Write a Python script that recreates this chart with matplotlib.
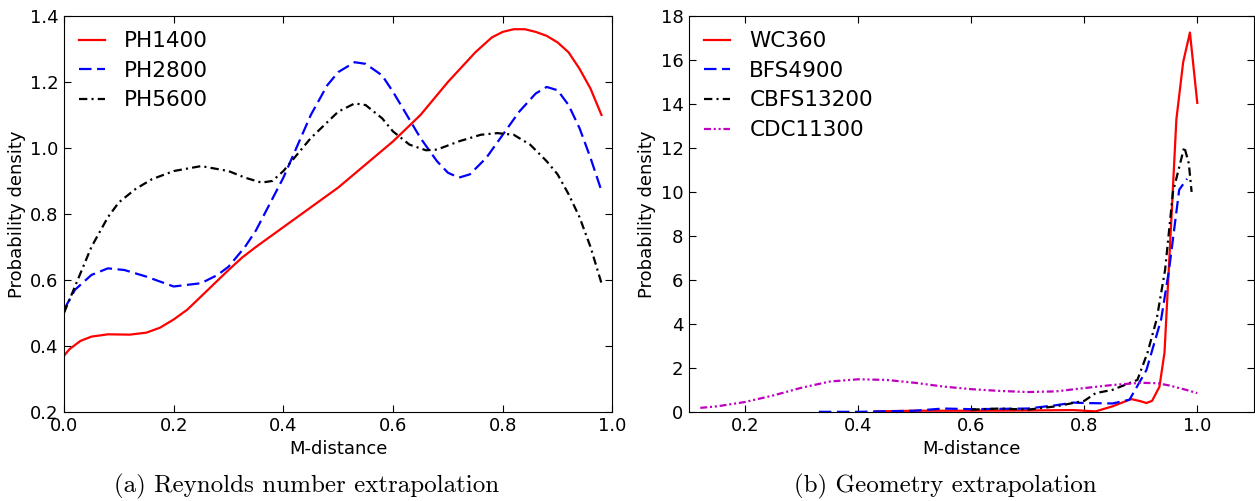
import numpy as np
import matplotlib
matplotlib.use('Agg')
import matplotlib.pyplot as plt

# (a) Reynolds number extrapolation
x_ph1400 = [0.0, 0.01, 0.03, 0.05, 0.08, 0.12, 0.15, 0.175, 0.2, 0.225, 0.25, 0.275,
            0.3, 0.325, 0.35, 0.4, 0.45, 0.5, 0.55, 0.6, 0.65, 0.7, 0.75, 0.78,
            0.8, 0.82, 0.84, 0.86, 0.88, 0.9, 0.92, 0.94, 0.96, 0.98]
ph1400 = [0.37, 0.39, 0.415, 0.428, 0.435, 0.434, 0.44, 0.455, 0.48, 0.51, 0.55, 0.59,
          0.63, 0.668, 0.70, 0.76, 0.82, 0.88, 0.95, 1.02, 1.10, 1.20, 1.29, 1.335,
          1.352, 1.36, 1.36, 1.352, 1.34, 1.32, 1.29, 1.24, 1.18, 1.10]
x_ph2800 = [0.0, 0.02, 0.05, 0.08, 0.11, 0.15, 0.2, 0.25, 0.28, 0.3, 0.33, 0.35, 0.4,
            0.45, 0.48, 0.5, 0.53, 0.55, 0.58, 0.6, 0.65, 0.68, 0.7, 0.72, 0.74,
            0.77, 0.8, 0.83, 0.86, 0.88, 0.9, 0.92, 0.94, 0.96, 0.98]
ph2800 = [0.51, 0.57, 0.615, 0.635, 0.63, 0.61, 0.58, 0.59, 0.615, 0.64, 0.70, 0.75,
          0.91, 1.10, 1.19, 1.23, 1.26, 1.255, 1.22, 1.17, 1.03, 0.96, 0.925, 0.91,
          0.92, 0.97, 1.04, 1.11, 1.165, 1.185, 1.175, 1.13, 1.06, 0.97, 0.87]
x_ph5600 = [0.0, 0.02, 0.05, 0.08, 0.1, 0.13, 0.16, 0.2, 0.25, 0.3, 0.33, 0.36, 0.38,
            0.4, 0.45, 0.5, 0.53, 0.55, 0.58, 0.6, 0.63, 0.66, 0.68, 0.72, 0.76,
            0.79, 0.82, 0.85, 0.88, 0.9, 0.92, 0.94, 0.96, 0.98]
ph5600 = [0.50, 0.58, 0.70, 0.79, 0.835, 0.875, 0.905, 0.93, 0.945, 0.93, 0.91, 0.895,
          0.90, 0.93, 1.03, 1.11, 1.135, 1.13, 1.09, 1.05, 1.01, 0.993, 0.995, 1.02,
          1.04, 1.045, 1.04, 1.01, 0.96, 0.92, 0.86, 0.79, 0.70, 0.59]

# (b) Geometry extrapolation
x_wc = [0.43, 0.5, 0.6, 0.7, 0.78, 0.8, 0.82, 0.85, 0.883, 0.9, 0.91, 0.92, 0.933,
        0.942, 0.954, 0.963, 0.975, 0.987, 1.0]
wc360 = [0.02, 0.05, 0.05, 0.06, 0.08, 0.05, 0.02, 0.25, 0.58, 0.48, 0.4, 0.5, 1.14,
         2.7, 8.7, 13.3, 15.9, 17.25, 14.05]
x_bfs = [0.33, 0.4, 0.5, 0.55, 0.6, 0.7, 0.75, 0.78, 0.8, 0.85, 0.88, 0.91, 0.936,
         0.95, 0.968, 0.982]
bfs4900 = [0.0, 0.0, 0.05, 0.15, 0.12, 0.15, 0.3, 0.42, 0.4, 0.38, 0.55, 1.9, 4.2,
           6.45, 10.1, 10.6]
x_cbfs = [0.6, 0.65, 0.7, 0.75, 0.8, 0.82, 0.85, 0.894, 0.912, 0.928, 0.943, 0.957,
          0.977, 0.985, 0.99]
cbfs13200 = [0.1, 0.15, 0.1, 0.25, 0.5, 0.85, 1.0, 1.45, 2.7, 4.2, 6.45, 10.0,
             12.05, 11.3, 10.0]
x_cdc = [0.12, 0.15, 0.2, 0.25, 0.3, 0.35, 0.4, 0.45, 0.5, 0.55, 0.6, 0.65, 0.7,
         0.75, 0.8, 0.85, 0.9, 0.93, 0.95, 0.98, 1.0]
cdc11300 = [0.18, 0.25, 0.45, 0.75, 1.1, 1.38, 1.48, 1.45, 1.32, 1.15, 1.03, 0.95,
            0.90, 0.93, 1.08, 1.22, 1.32, 1.3, 1.2, 1.0, 0.85]

plt.rcParams['font.family'] = ['DejaVu Sans']
plt.rcParams['lines.scale_dashes'] = False
plt.rcParams['xtick.direction'] = 'in'
plt.rcParams['ytick.direction'] = 'in'
plt.rcParams['xtick.top'] = True
plt.rcParams['ytick.right'] = True
plt.rcParams['xtick.major.size'] = 5
plt.rcParams['ytick.major.size'] = 5

fig = plt.figure(figsize=(12.55, 5.01), dpi=100)
ax1 = fig.add_axes([0.051, 0.178, 0.437, 0.790])
ax2 = fig.add_axes([0.549, 0.178, 0.450, 0.790])

lw = 1.6
ax1.plot(x_ph1400, ph1400, color='red', lw=lw, label='PH1400')
ax1.plot(x_ph2800, ph2800, color='blue', lw=lw, dashes=(9, 4), label='PH2800')
ax1.plot(x_ph5600, ph5600, color='black', lw=lw, dashes=(6, 3, 1.5, 3), label='PH5600')
ax1.set_xlim(0, 1.0)
ax1.set_ylim(0.2, 1.4)
ax1.set_xticks(np.arange(0, 1.01, 0.2))
ax1.set_yticks(np.arange(0.2, 1.41, 0.2))

ax2.plot(x_wc, wc360, color='red', lw=lw, label='WC360')
ax2.plot(x_bfs, bfs4900, color='blue', lw=lw, dashes=(9, 4), label='BFS4900')
ax2.plot(x_cbfs, cbfs13200, color='black', lw=lw, dashes=(6, 3, 1.5, 3), label='CBFS13200')
ax2.plot(x_cdc, cdc11300, color='m', lw=lw, dashes=(5, 2, 1.5, 2, 1.5, 2), label='CDC11300')
ax2.set_xlim(0.1, 1.1)
ax2.set_ylim(0, 18)
ax2.set_xticks([0.2, 0.4, 0.6, 0.8, 1.0])
ax2.set_yticks(np.arange(0, 19, 2))

for ax in (ax1, ax2):
    ax.set_xlabel('M-distance', fontsize=13, labelpad=3)
    ax.set_ylabel('Probability density', fontsize=13, labelpad=3)
    ax.tick_params(labelsize=13, pad=4)
    ax.legend(loc='upper left', frameon=False, fontsize=15.5, handlelength=1.2,
              labelspacing=0.45, borderaxespad=0.3, handletextpad=0.9)

fig.text(0.244, 0.018, '(a) Reynolds number extrapolation', family='cmr10',
         fontsize=18, ha='center')
fig.text(0.753, 0.018, '(b) Geometry extrapolation', family='cmr10',
         fontsize=18, ha='center')

fig.savefig('out.png', dpi=100)
